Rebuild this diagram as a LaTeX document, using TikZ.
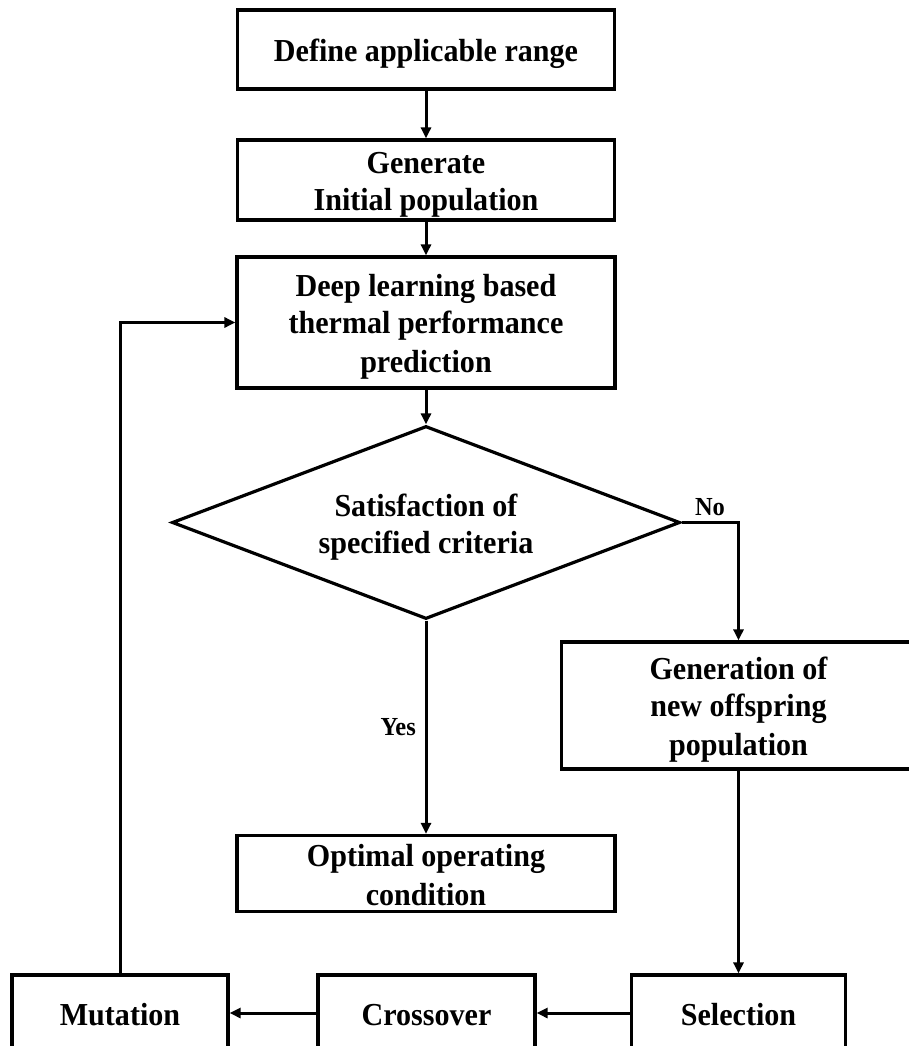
\documentclass[tikz,border=0pt]{standalone}
\usepackage{fontspec}
\setmainfont{Liberation Serif}
\newfontfamily\boxfont[FakeStretch=0.94]{Liberation Serif}
\usepackage{tikz}
\usetikzlibrary{arrows.meta, shapes.geometric}

% strut that keeps the text low in its box
\newcommand\bs{\rule[-6pt]{0pt}{37pt}}

\tikzset{
  flowbox/.style={draw, line width=3.2pt, rectangle, align=center, inner sep=0pt,
    font=\boxfont\fontsize{32}{37}\selectfont\bfseries},
  decide/.style={draw, line width=3.2pt, diamond, aspect=2.63, align=center, inner sep=0pt,
    minimum width=508pt, minimum height=193pt,
    font=\boxfont\fontsize{32}{37}\selectfont\bfseries},
  flow/.style={line width=3pt, -{Triangle[length=11pt,width=10pt]}},
  tag/.style={font=\boxfont\fontsize{26}{30}\selectfont\bfseries, inner sep=2pt}
}

\begin{document}
\begin{tikzpicture}[x=1pt, y=-1pt]

\useasboundingbox (0,0) rectangle (909,1046);
\fill[white] (0,0) rectangle (909,1046);
\clip (0,0) rectangle (909,1046);

% Main column
\node[flowbox, minimum width=377pt, minimum height=79pt] (range) at (426,49.5) {\bs Define applicable range\bs};
\node[flowbox, minimum width=377pt, minimum height=80pt] (init) at (426,180) {\bs Generate\\Initial population\bs};
\node[flowbox, minimum width=378pt, minimum height=131pt] (predict) at (426,322.5) {\bs Deep learning based\\thermal performance\\prediction\bs};
\node[decide] (crit) at (426,522.5) {\bs Satisfaction of\\specified criteria\bs};
\node[flowbox, minimum width=378pt, minimum height=75pt] (optimal) at (426,873.5) {\bs Optimal operating\\condition\bs};

% Right branch
\node[flowbox, minimum width=354pt, minimum height=127pt] (offspring) at (738.5,705.5) {\bs Generation of\\new offspring\\population\bs};

% Bottom row
\node[flowbox, minimum width=216pt, minimum height=76pt] (mutation) at (120,1013) {\bs Mutation\bs};
\node[flowbox, minimum width=217pt, minimum height=76pt] (crossover) at (426.5,1013) {\bs Crossover\bs};
\node[flowbox, minimum width=214pt, minimum height=76pt] (selection) at (738.5,1013) {\bs Selection\bs};

% Arrows
\draw[flow] (range) -- (init);
\draw[flow] (init) -- (predict);
\draw[flow] (predict.south) -- (crit.north);
\draw[flow] (crit.east) -| (offspring.north);
\draw[flow] (crit.south) -- (optimal.north);
\draw[flow] (offspring) -- (selection);
\draw[flow] (selection) -- (crossover);
\draw[flow] (crossover) -- (mutation);
\draw[flow] (mutation.north) |- (predict.west);

% Labels
\node[tag] (nolabel) at (710,507) {No};
\node[tag, anchor=east] (yeslabel) at (418,727) {Yes};

\end{tikzpicture}
\end{document}
